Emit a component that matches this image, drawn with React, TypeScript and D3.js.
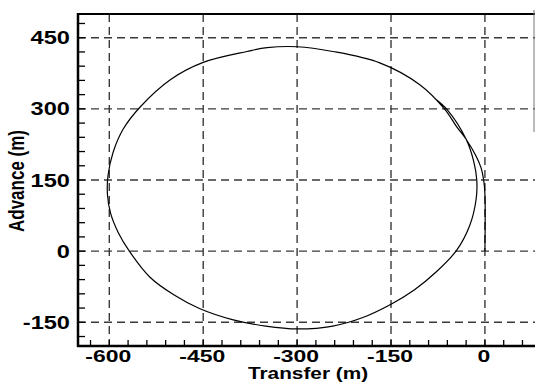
import React from "react";
import * as d3 from "d3";

// Turning-circle track: transfer (m) and advance (m) along the path
const transfer = [
  0, 0, -2, -6, -14, -30, -45, -64, -104, -168, -243, -300, -348, -380, -450,
  -502, -550, -578, -594, -602, -603, -598, -586, -568, -535, -497, -456, -402,
  -350, -300, -243, -195, -150, -113, -78, -45, -24, -14, -13, -18, -30, -60, -80,
];
const advance = [
  0, 120, 150, 175, 200, 236, 262, 299, 351, 397, 421, 431, 429, 421, 398,
  362, 305, 257, 208, 160, 120, 80, 40, 0, -55, -92, -121, -145,
  -158, -164, -158, -140, -112, -82, -44, 2, 55, 110, 150, 190, 236, 298, 322,
];

const xTicks = [-600, -450, -300, -150, 0];
const yTicks = [-150, 0, 150, 300, 450];
const xMinor = d3.range(-630, 61, 30);
const yMinor = d3.range(-180, 481, 30);

const W = 535;
const H = 383;
const left = 78;
const top = 14;
const bottom = 346;
const right = 535;

const FONT = "'Liberation Sans', Arial, Helvetica, sans-serif";
const STRETCH = 1.35;

export default function App() {
  const x = d3.scaleLinear().domain([-650, 80]).range([left, right]);
  const y = d3.scaleLinear().domain([-200, 500]).range([bottom, top]);

  const pts: [number, number][] = transfer.map((t, i) => [t, advance[i]]);
  const line = d3
    .line<[number, number]>()
    .x((d) => x(d[0]))
    .y((d) => y(d[1]))
    .curve(d3.curveCatmullRom.alpha(0.5));

  const gridStyle = { stroke: "#3a3a3a", strokeWidth: 1.4, strokeDasharray: "8,5" };

  return (
    <svg
      width={W}
      height={H}
      style={{ position: "absolute", left: 0, top: 0, background: "#fff" }}
    >
      {/* dashed grid */}
      {xTicks.map((v) => (
        <line key={"gx" + v} x1={x(v)} x2={x(v)} y1={top} y2={bottom} {...gridStyle} />
      ))}
      {yTicks.map((v) => (
        <line key={"gy" + v} x1={left} x2={right} y1={y(v)} y2={y(v)} {...gridStyle} />
      ))}

      {/* minor ticks, pointing inward */}
      {yMinor.map((v) => (
        <line key={"my" + v} x1={left} x2={left + 7} y1={y(v)} y2={y(v)} stroke="#000" strokeWidth={1.3} />
      ))}
      {xMinor.map((v) => (
        <line key={"mx" + v} x1={x(v)} x2={x(v)} y1={bottom} y2={bottom - 6} stroke="#000" strokeWidth={1.3} />
      ))}

      {/* track */}
      <path d={line(pts) || ""} fill="none" stroke="#000" strokeWidth={1.2} />

      {/* frame */}
      <line x1={left} x2={right} y1={top} y2={top} stroke="#000" strokeWidth={2} />
      <line x1={left} x2={left} y1={top - 1} y2={bottom + 1} stroke="#000" strokeWidth={2.5} />
      <line x1={left - 1} x2={right} y1={bottom} y2={bottom} stroke="#000" strokeWidth={2.5} />
      <line x1={534} x2={534} y1={10} y2={132} stroke="#777" strokeWidth={1} />

      {/* y tick labels */}
      {yTicks.map((v) => (
        <g key={"ly" + v} transform={`translate(70,${y(v) + 6.5}) scale(${STRETCH},1)`}>
          <text textAnchor="end" fontFamily={FONT} fontWeight="bold" fontSize={17.5} fill="#000">
            {v}
          </text>
        </g>
      ))}
      {/* x tick labels */}
      {xTicks.map((v) => (
        <g key={"lx" + v} transform={`translate(${x(v) - 1},362) scale(${STRETCH},1)`}>
          <text textAnchor="middle" fontFamily={FONT} fontWeight="bold" fontSize={17} fill="#000">
            {v}
          </text>
        </g>
      ))}

      {/* axis titles */}
      <g transform={`translate(308,379) scale(1.3,1)`}>
        <text textAnchor="middle" fontFamily={FONT} fontWeight="bold" fontSize={16} fill="#000">
          Transfer (m)
        </text>
      </g>
      <g transform={`translate(24,181) rotate(-90) scale(1,1.3)`}>
        <text textAnchor="middle" fontFamily={FONT} fontWeight="bold" fontSize={17} fill="#000">
          Advance (m)
        </text>
      </g>
    </svg>
  );
}
